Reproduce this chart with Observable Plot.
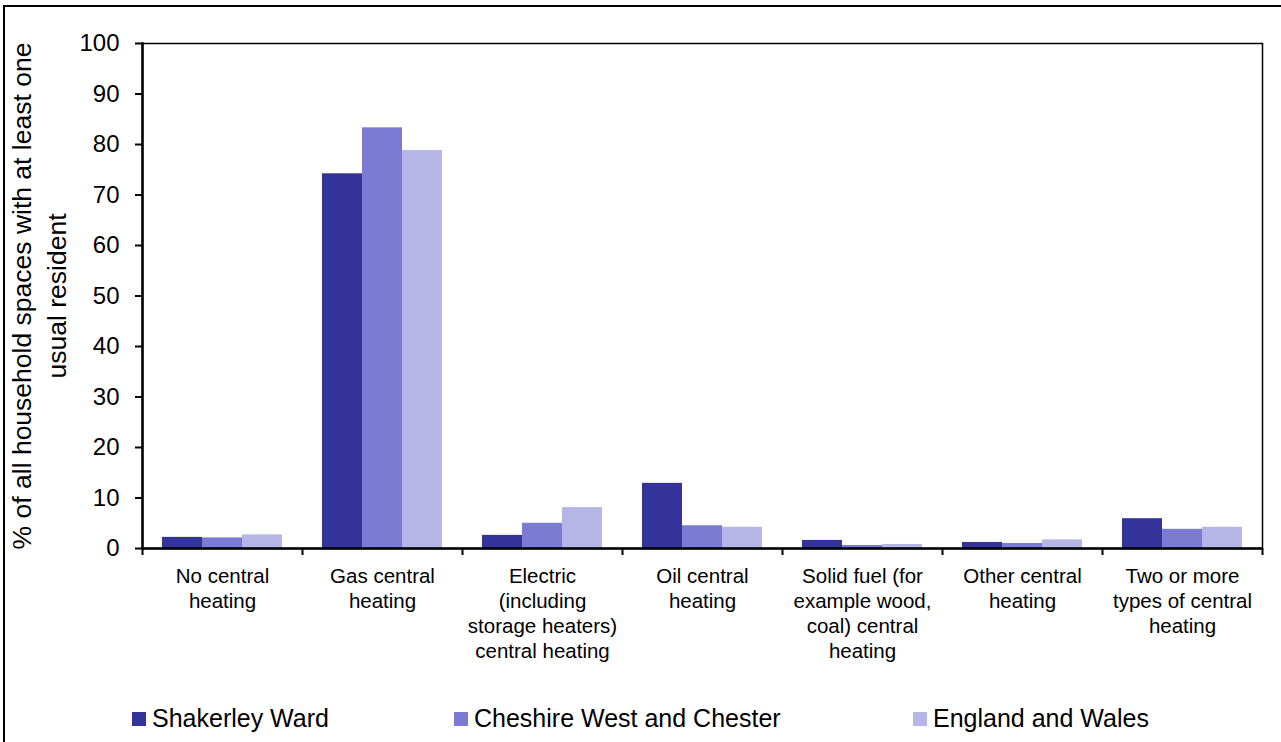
<!DOCTYPE html>
<html>
<head>
<meta charset="utf-8">
<script src="https://cdn.jsdelivr.net/npm/d3@7"></script>
<script src="https://cdn.jsdelivr.net/npm/@observablehq/plot@0.6"></script>
<style>
  html, body { margin: 0; padding: 0; background: #fff; overflow: hidden; }
  body { width: 1281px; height: 742px; position: relative; font-family: Arial, "Liberation Sans", sans-serif; }
  #border { position: absolute; left: 3px; top: 5px; width: 1300px; height: 800px; border: 2px solid #000; box-sizing: border-box; pointer-events: none; z-index: 10; }
  #chart { position: absolute; left: 0; top: 0; z-index: 1; }
  #legend { position: absolute; left: 0; top: 694px; width: 1281px; height: 48px; z-index: 2; }
  .item { position: absolute; top: 0; height: 48px; display: flex; align-items: center; font-size: 25px; color: #000; white-space: nowrap; }
  .sw { width: 14px; height: 14px; margin-right: 6px; margin-top: 2px; }
</style>
</head>
<body>
<div id="chart"></div>
<div id="legend"></div>
<div id="border"></div>
<script>
const categories = [
  "No central\nheating",
  "Gas central\nheating",
  "Electric\n(including\nstorage heaters)\ncentral heating",
  "Oil central\nheating",
  "Solid fuel (for\nexample wood,\ncoal) central\nheating",
  "Other central\nheating",
  "Two or more\ntypes of central\nheating"
];
const seriesNames = ["Shakerley Ward", "Cheshire West and Chester", "England and Wales"];
const shakerleyWard = [2.2, 74.2, 2.6, 12.9, 1.6, 1.2, 5.9];
const cheshireWestChester = [2.1, 83.3, 5.0, 4.5, 0.6, 1.0, 3.8];
const englandWales = [2.7, 78.8, 8.1, 4.2, 0.8, 1.7, 4.2];
const seriesColors = ["#333399", "#7b7bd3", "#b5b5e6"];
const yTicks = [0, 10, 20, 30, 40, 50, 60, 70, 80, 90, 100];
const yTitle = "% of all household spaces with at least one\nusual resident";

const values = [shakerleyWard, cheshireWestChester, englandWales];
const table = [];
seriesNames.forEach((s, i) => categories.forEach((c, j) => table.push({category: c, series: s, value: values[i][j]})));

const W = 1281, H = 690, mL = 142, mR = 19, mT = 43, mB = 142;
const step = (W - mL - mR) / categories.length;
const barW = step / 4;
const pad = barW / 2;

const barMarks = seriesNames.map((s, i) => Plot.barY(table.filter(d => d.series === s), {
  x: "category", y: "value", fill: "series",
  insetLeft: pad + barW * i,
  insetRight: step - pad - barW * (i + 1)
}));

const chart = Plot.plot({
  width: W, height: H,
  marginLeft: mL, marginRight: mR, marginTop: mT, marginBottom: mB,
  style: {fontFamily: "Arial, 'Liberation Sans', sans-serif", color: "#000", background: "#fff"},
  x: {type: "band", domain: categories, padding: 0},
  y: {domain: [0, 100]},
  color: {domain: seriesNames, range: seriesColors},
  marks: [
    ...barMarks,
    Plot.frame({stroke: "#000", strokeWidth: 1.5}),
    Plot.ruleY([0], {stroke: "#000", strokeWidth: 2.5}),
    Plot.frame({anchor: "left", stroke: "#000", strokeWidth: 2.5}),
    Plot.axisY({ticks: yTicks, tickSize: 7, tickPadding: 16, fontSize: 24, stroke: "#000", strokeWidth: 2, label: null}),
    Plot.axisX({tickSize: 0, tickPadding: 17, fontSize: 20.5, lineHeight: 1.22, label: null, tickFormat: d => d}),
    Plot.ruleX(categories, {x: d => d, dx: -step / 2, y1: 0, y2: -1.4, stroke: "#000", strokeWidth: 2}),
    Plot.ruleX(categories.slice(-1), {x: d => d, dx: step / 2, y1: 0, y2: -1.4, stroke: "#000", strokeWidth: 2}),
    Plot.text([yTitle], {frameAnchor: "left", rotate: -90, dx: -105, text: d => d, fontSize: 26.5, lineHeight: 1.3, fill: "#000", textAnchor: "middle"})
  ]
});
document.getElementById("chart").appendChild(chart);

const legendX = [132, 454, 913];
const legend = document.getElementById("legend");
seriesNames.forEach((s, i) => {
  const item = document.createElement("div");
  item.className = "item";
  item.style.left = legendX[i] + "px";
  const sw = document.createElement("span");
  sw.className = "sw";
  sw.style.background = seriesColors[i];
  item.appendChild(sw);
  const t = document.createElement("span");
  t.textContent = s;
  item.appendChild(t);
  legend.appendChild(item);
});
</script>
</body>
</html>
